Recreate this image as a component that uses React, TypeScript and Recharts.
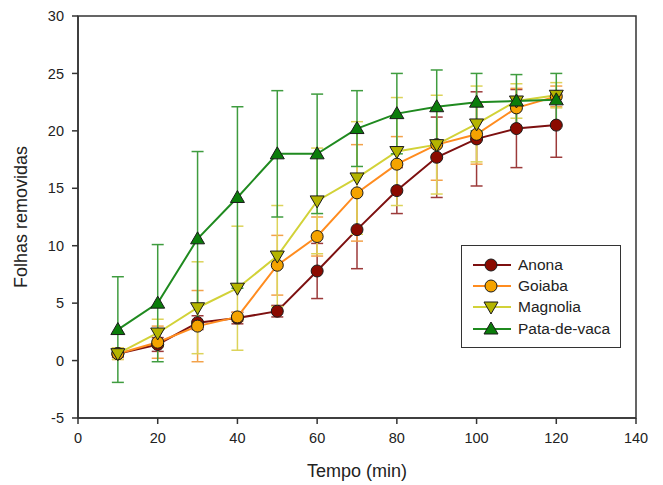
import {
  ErrorBar,
  Line,
  LineChart,
  ReferenceArea,
  XAxis,
  YAxis,
} from "recharts";

const tempo = [10, 20, 30, 40, 50, 60, 70, 80, 90, 100, 110, 120];

const anona = [0.6, 1.4, 3.3, 3.7, 4.3, 7.8, 11.4, 14.8, 17.7, 19.3, 20.2, 20.5];
const anonaErr = [0.3, 0.6, 0.6, 0.5, 0.5, 2.4, 3.4, 2.0, 3.5, 4.1, 3.4, 2.8];

const goiaba = [0.6, 1.6, 3.0, 3.8, 8.3, 10.8, 14.6, 17.1, 18.8, 19.7, 22.0, 23.0];
const goiabaErr = [0.5, 1.4, 3.1, 0.4, 2.6, 1.7, 4.2, 2.4, 3.1, 2.6, 1.7, 0.9];

const magnolia = [0.6, 2.4, 4.6, 6.3, 9.1, 13.9, 15.9, 18.2, 18.8, 20.6, 22.6, 23.1];
const magnoliaErr = [0.5, 1.2, 4.0, 5.4, 4.4, 4.6, 4.9, 4.7, 4.3, 3.3, 1.5, 1.1];

const pata = [2.7, 5.0, 10.6, 14.2, 18.0, 18.0, 20.2, 21.5, 22.1, 22.5, 22.6, 22.7];
const pataErr = [4.6, 5.1, 7.6, 7.9, 5.5, 5.2, 3.3, 3.5, 3.2, 2.5, 2.3, 2.3];

const xTicks = [0, 20, 40, 60, 80, 100, 120, 140];
const yTicks = [-5, 0, 5, 10, 15, 20, 25, 30];

const rows = tempo.map((t, i) => ({
  tempo: t,
  anona: anona[i],
  anonaErr: anonaErr[i],
  goiaba: goiaba[i],
  goiabaErr: goiabaErr[i],
  magnolia: magnolia[i],
  magnoliaErr: magnoliaErr[i],
  pata: pata[i],
  pataErr: pataErr[i],
}));

type Shape = "circle" | "down" | "up";

const series = [
  { key: "anona", name: "Anona", line: "#7d1010", fill: "#8b0a00", err: "#9c3a3a", shape: "circle" as Shape },
  { key: "goiaba", name: "Goiaba", line: "#ff8c1f", fill: "#f5a300", err: "#f3a24a", shape: "circle" as Shape },
  { key: "magnolia", name: "Magnolia", line: "#d2d238", fill: "#b4b400", err: "#dcd35a", shape: "down" as Shape },
  { key: "pata", name: "Pata-de-vaca", line: "#1f8a1f", fill: "#0b7d0b", err: "#3f9c3f", shape: "up" as Shape },
];

const font = "'Liberation Sans', Arial, sans-serif";
const textColor = "#222";

function Marker({ cx, cy, shape, fill }: { cx: number; cy: number; shape: Shape; fill: string }) {
  if (shape === "circle") {
    return <circle cx={cx} cy={cy} r={6} fill={fill} stroke="#1a1a1a" strokeWidth={1} />;
  }
  const pts =
    shape === "up"
      ? `${cx},${cy - 7} ${cx - 7},${cy + 5} ${cx + 7},${cy + 5}`
      : `${cx},${cy + 7} ${cx - 7},${cy - 5} ${cx + 7},${cy - 5}`;
  return <polygon points={pts} fill={fill} stroke="#1a1a1a" strokeWidth={1} />;
}

// legend drawn as plain html over the chart, like the boxed legend in the original
function LegendBox() {
  return (
    <div
      style={{
        position: "absolute",
        left: 461,
        top: 245,
        width: 160,
        height: 103,
        border: "1.5px solid #333",
        background: "#fff",
        boxSizing: "border-box",
        paddingTop: 8,
      }}
    >
      {series.map((s) => (
        <div key={s.key} style={{ display: "flex", alignItems: "center", height: 21.3 }}>
          <svg width={46} height={16} style={{ marginLeft: 10 }}>
            <line x1={1} y1={8} x2={39} y2={8} stroke={s.line} strokeWidth={2} />
            <Marker cx={19} cy={8} shape={s.shape} fill={s.fill} />
          </svg>
          <span style={{ fontFamily: font, fontSize: 15.5, color: textColor, lineHeight: "16px" }}>
            {s.name}
          </span>
        </div>
      ))}
    </div>
  );
}

export default function App() {
  return (
    <div style={{ position: "absolute", left: 0, top: 0, width: 663, height: 485, background: "#fff" }}>
      <LineChart
        width={663}
        height={485}
        data={rows}
        margin={{ top: 16, right: 27, bottom: 0, left: 38 }}
      >
        <XAxis
          dataKey="tempo"
          type="number"
          domain={[0, 140]}
          ticks={xTicks}
          height={67}
          tickSize={6}
          tickMargin={9}
          stroke="#333"
          strokeWidth={1.5}
          tick={{ fill: textColor, fontSize: 14.5, fontFamily: font }}
          label={{
            value: "Tempo (min)",
            position: "insideBottom",
            offset: 8,
            fill: textColor,
            fontSize: 18,
            fontFamily: font,
          }}
        />
        <YAxis
          type="number"
          domain={[-5, 30]}
          ticks={yTicks}
          width={40}
          tickSize={6}
          tickMargin={8}
          stroke="#333"
          strokeWidth={1.5}
          tick={{ fill: textColor, fontSize: 14.5, fontFamily: font }}
          label={{
            value: "Folhas removidas",
            angle: -90,
            position: "insideLeft",
            offset: -17,
            style: { textAnchor: "middle" },
            fill: textColor,
            fontSize: 18,
            fontFamily: font,
          }}
        />
        <ReferenceArea
          x1={0}
          x2={140}
          y1={-5}
          y2={30}
          fill="none"
          stroke="#333"
          strokeWidth={1.5}
        />
        {series.map((s) => (
          <Line
            key={s.key}
            dataKey={s.key}
            name={s.name}
            stroke={s.line}
            strokeWidth={2}
            isAnimationActive={false}
            dot={(p: any) => (
              <Marker key={`${s.key}-${p.index}`} cx={p.cx} cy={p.cy} shape={s.shape} fill={s.fill} />
            )}
            activeDot={false}
          >
            <ErrorBar
              dataKey={`${s.key}Err`}
              direction="y"
              width={6}
              stroke={s.err}
              strokeWidth={1.5}
            />
          </Line>
        ))}
      </LineChart>
      <LegendBox />
    </div>
  );
}
